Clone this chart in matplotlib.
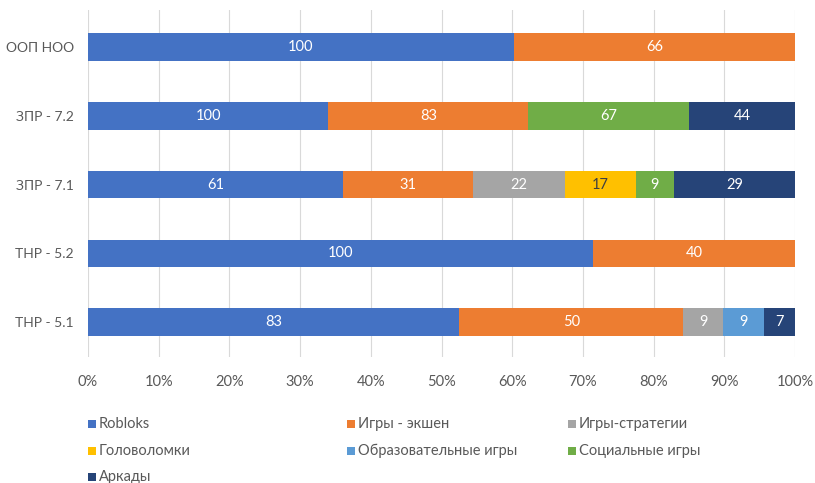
import numpy as np
import matplotlib as mpl
from matplotlib import pyplot as plt
from matplotlib.patches import Rectangle
mpl.use("agg")

plt.rcParams['font.family'] = ['Lato', 'DejaVu Sans']

groups = ["ТНР - 5.1", "ТНР - 5.2", "ЗПР - 7.1", "ЗПР - 7.2", "ООП НОО"]
seriesNames = ["Robloks", "Игры - экшен", "Игры-стратегии", "Головоломки",
               "Образовательные игры", "Социальные игры", "Аркады"]
robloks = [83, 100, 61, 100, 100]
action = [50, 40, 31, 83, 66]
strategy = [9, 0, 22, 0, 0]
puzzles = [0, 0, 17, 0, 0]
educational = [9, 0, 0, 0, 0]
social = [0, 0, 9, 67, 0]
arcade = [7, 0, 29, 44, 0]
seriesColors = ["#4472C4", "#ED7D31", "#A5A5A5", "#FFC000", "#5B9BD5", "#70AD47", "#264478"]
labelColors = ["white", "white", "white", "#404040", "white", "white", "white"]

values = np.array([robloks, action, strategy, puzzles, educational, social, arcade], dtype=float)
totals = values.sum(axis=0)
shares = values / totals * 100

fig = plt.figure(figsize=(8.15, 4.83), dpi=100)
ax = fig.add_axes([88/815, 1 - 357/483, (795 - 88)/815, (357 - 10)/483])

y = np.arange(len(groups))
left = np.zeros(len(groups))
for i, name in enumerate(seriesNames):
    ax.barh(y, shares[i], left=left, height=0.4, color=seriesColors[i], label=name, zorder=3)
    for j in range(len(groups)):
        if values[i, j] > 0:
            ax.text(left[j] + shares[i, j] / 2, y[j], f"{values[i, j]:.0f}", ha="center", va="center",
                    color=labelColors[i], fontsize=10.5, zorder=4)
    left += shares[i]

ax.set_xlim(0, 100)
ax.set_ylim(-0.51, 4.54)
ax.set_xticks(np.arange(0, 101, 10))
ax.set_xticklabels([f"{t}%" for t in range(0, 101, 10)])
ax.set_yticks(y)
ax.set_yticklabels(groups)
ax.tick_params(axis="both", length=0, labelsize=10, labelcolor="#595959")
ax.tick_params(axis="x", pad=13, labelsize=10.5)
ax.tick_params(axis="y", pad=10)
ax.grid(axis="x", color="#D9D9D9", linewidth=0.8, zorder=0)
for spine in ax.spines.values():
    spine.set_visible(False)

# legend, three per row like the Excel one
legendX = [88, 347, 568]
legendY = [424, 451, 477]
for i, name in enumerate(seriesNames):
    px = legendX[i % 3]
    py = legendY[i // 3]
    fig.patches.append(Rectangle((px / 815, 1 - (py + 4) / 483), 8 / 815, 8 / 483,
                                 transform=fig.transFigure, facecolor=seriesColors[i],
                                 edgecolor="none"))
    fig.text((px + 11) / 815, 1 - py / 483, name, ha="left", va="center",
             fontsize=10.5, color="#595959")

fig.savefig("out.png", dpi=100)
